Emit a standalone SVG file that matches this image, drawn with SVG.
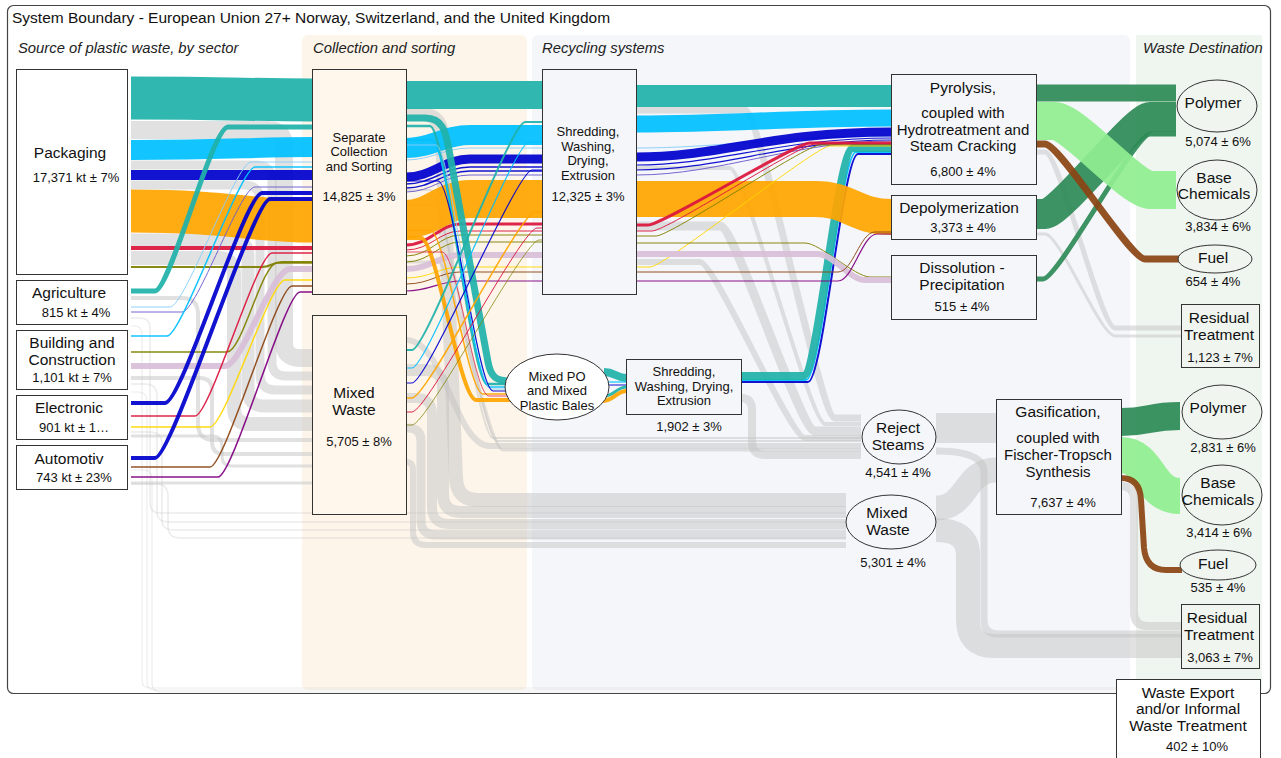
<svg xmlns="http://www.w3.org/2000/svg" width="1281" height="758" viewBox="0 0 1281 758">
<style>
  text{font-family:"Liberation Sans",Arial,sans-serif;fill:#111}
  .ttl{font-size:15.5px}
  .t15{font-size:15.5px}
  .t15s{font-size:15px}
  .t13{font-size:13px}
  .hd{font-size:14.8px;font-style:italic;fill:#222}
  .m{text-anchor:middle}
  .box{stroke:#333;stroke-width:1}
  .g{fill:none;stroke:#c4c4c4;stroke-opacity:.5}
  .gf{fill:none;stroke:#c8c8c8;stroke-opacity:.35}
  .c{fill:none;stroke-opacity:.93}
</style>

<!-- canvas and column panels -->
<rect width="1281" height="758" fill="#fff"/>
<rect x="302" y="35" width="225" height="655" rx="6" fill="#fdf5ea"/>
<rect x="532" y="35" width="598" height="655" rx="6" fill="#f5f6fa"/>
<rect x="1136" y="35" width="126" height="655" fill="#eff5ef"/>
<rect x="7.5" y="5.5" width="1263" height="688" rx="6" fill="none" stroke="#444" stroke-width="1.2"/>

<text class="ttl" x="12" y="23">System Boundary - European Union 27+ Norway, Switzerland, and the United Kingdom</text>
<text class="hd" x="18" y="53">Source of plastic waste, by sector</text>
<text class="hd" x="313" y="53">Collection and sorting</text>
<text class="hd" x="542" y="53">Recycling systems</text>
<text class="hd" x="1143" y="53">Waste Destination</text>

<g id="connectors">
  <!-- residual / reject streams (grey) -->
  <path class="g" stroke-width="18" d="M131 130 H268 Q284 130 284 146 V342 Q284 358 300 358 H312"/>
  <path class="g" stroke-width="9" d="M131 165 H256 Q272 165 272 181 V362 Q272 376 286 376 H312"/>
  <path class="g" stroke-width="9" d="M131 185 H244 Q260 185 260 201 V374 Q260 390 276 390 H312"/>
  <path class="g" stroke-width="13" d="M131 240 H232 Q248 240 248 256 V390 Q248 406 264 406 H312"/>
  <path class="g" stroke-width="14" d="M131 258 H218 Q234 258 234 274 V408 Q234 424 250 424 H312"/>
  <path class="g" stroke-width="4" d="M131 298 H182 Q198 298 198 314 V424 Q198 440 214 440 H312"/>
  <path class="g" stroke-width="4" d="M131 378 H200 Q212 378 212 390 V442 Q212 454 224 454 H312"/>
  <path class="g" stroke-width="3" d="M131 436 H212 Q222 436 222 446 V456 Q222 466 232 466 H312"/>
  <path class="g" stroke-width="3" d="M131 483 H312"/>

  <path class="gf" stroke-width="1.5" d="M131 318 H140 Q150 318 150 328 V503 Q150 513 160 513 H846"/>
  <path class="gf" stroke-width="1.5" d="M131 384 H145 Q157 384 157 396 V512 Q157 522 169 522 H846"/>
  <path class="gf" stroke-width="1.5" d="M131 432 H150 Q162 432 162 444 V520 Q162 530 174 530 H846"/>
  <path class="gf" stroke-width="1.5" d="M131 484 H156 Q168 484 168 496 V526 Q168 538 180 538 H846"/>
  <path class="gf" stroke-width="1.2" d="M131 326 H134 Q142 326 142 334 V680 Q142 688 150 688 H1116"/>
  <path class="gf" stroke-width="1.2" d="M131 392 H138 Q147 392 147 401 V682 Q147 690 155 690 H1116"/>
  <path class="gf" stroke-width="1.2" d="M131 470 H143 Q152 470 152 479 V683 Q152 692 161 692 H1116"/>

  <path class="g" stroke-width="14" d="M406 114 H420 Q440 114 442 134 L456 478 Q457 500 478 500 H846"/>
  <path class="g" stroke-width="12" d="M406 370 H425 Q443 370 443 388 V494 Q443 512 461 512 H846"/>
  <path class="g" stroke-width="10" d="M406 398 H416 Q432 398 432 414 V507 Q432 524 449 524 H846"/>
  <path class="g" stroke-width="9" d="M406 428 H408 Q421 428 421 441 V520 Q421 535 436 535 H846"/>
  <path class="g" stroke-width="6" d="M406 462 Q413 462 413 470 V532 Q413 545 426 545 H846"/>

  <path class="g" stroke-width="6" d="M406 340 C445 340 455 446 490 446 H861"/>
  <path class="g" stroke-width="2" d="M406 190 H430 C445 190 478 438 493 438 H861"/>
  <path class="g" stroke-width="2" d="M406 205 H433 C448 205 482 441 497 441 H861"/>
  <path class="g" stroke-width="3" d="M406 262 H438 C453 262 488 450 503 450 H861"/>

  <path class="g" stroke-width="7" d="M636 110 H745 C760 110 820 418 835 418 H861"/>
  <path class="g" stroke-width="4" d="M636 168 H730 C745 168 810 424 825 424 H861"/>
  <path class="g" stroke-width="9" d="M636 226 H720 C735 226 800 431 815 431 H861"/>
  <path class="g" stroke-width="6" d="M636 262 H700 C715 262 790 438 805 438 H861"/>
  <path class="g" stroke-width="8" d="M741 398 Q752 398 752 410 V442 Q752 455 765 455 H861"/>

  <path class="g" stroke-width="30" d="M936 428 H996"/>
  <path class="g" stroke-width="7" d="M936 451 Q984 451 984 472 V620 Q984 634 998 634 H1181"/>
  <path class="g" stroke-width="25" d="M936 508 C968 508 964 470 996 470"/>
  <path class="g" stroke-width="24" d="M936 530 Q968 530 968 555 V620 Q968 646 994 646 H1181"/>
  <path class="g" stroke-width="8" d="M1121 486 Q1134 486 1134 500 V612 Q1134 626 1148 626 H1181"/>
  <path class="g" stroke-width="5" d="M1036 152 H1045 C1060 152 1100 328 1115 328 H1181"/>
  <path class="g" stroke-width="3" d="M1036 234 H1045 C1060 234 1100 336 1115 336 H1181"/>

  <!-- sources to separate collection -->
  <path class="c" stroke="#20b2aa" stroke-width="43" d="M131 98 C230 98 250 100 312 100"/>
  <path class="c" stroke="#00bfff" stroke-width="20" d="M131 150 C230 150 250 147 312 147"/>
  <path class="c" stroke="#0000cd" stroke-width="10" d="M131 175 H312"/>
  <path class="c" stroke="#ffa500" stroke-width="43" d="M131 211 C230 211 250 221 312 221"/>
  <path class="c" stroke="#dc143c" stroke-width="4" d="M131 248 H312"/>
  <path class="c" stroke="#808000" stroke-width="2" d="M131 267 H262 C272 267 272 262 282 262 H312"/>

  <path class="c" stroke="#20b2aa" stroke-width="5" d="M131 291 H155 C170 291 212 127 228 127 H312"/>
  <path class="c" stroke="#87cefa" stroke-width="1" d="M131 307 H170 C185 307 236 162 251 162 H312"/>
  <path class="c" stroke="#6a5acd" stroke-width="1" d="M131 312 H182 C197 312 240 187 255 187 H312"/>
  <path class="c" stroke="#00bfff" stroke-width="1.5" d="M131 336 H167 C182 336 240 167 255 167 H312"/>
  <path class="c" stroke="#808000" stroke-width="1.5" d="M131 352 H227 C242 352 262 263 277 263 H312"/>
  <path class="c" stroke="#d8bfd8" stroke-width="6" d="M131 366 H225 C242 366 272 269 290 269 H312"/>
  <path class="c" stroke="#0000cd" stroke-width="4" d="M131 403 H165 C182 403 245 193 262 193 H312"/>
  <path class="c" stroke="#dc143c" stroke-width="1.5" d="M131 416 H195 C210 416 257 253 272 253 H312"/>
  <path class="c" stroke="#ffd700" stroke-width="1.5" d="M131 427 H210 C225 427 270 280 285 280 H312"/>
  <path class="c" stroke="#0000cd" stroke-width="4" d="M131 458 H155 C172 458 253 199 270 199 H312"/>
  <path class="c" stroke="#8b4513" stroke-width="1.5" d="M131 467 H210 C225 467 277 286 292 286 H312"/>
  <path class="c" stroke="#800080" stroke-width="1.5" d="M131 477 H218 C233 477 285 292 300 292 H312"/>

  <!-- separate collection to shredding -->
  <path class="c" stroke="#20b2aa" stroke-width="28" d="M406 95 H542"/>
  <path class="c" stroke="#00bfff" stroke-width="20" d="M406 148 C432 148 444 135 470 135 H542"/>
  <path class="c" stroke="#87cefa" stroke-width="1" d="M406 160 C432 160 444 148 470 148 H542"/>
  <path class="c" stroke="#0000cd" stroke-width="9" d="M406 177 C432 177 444 159 470 159 H542"/>
  <path class="c" stroke="#0000cd" stroke-width="1.5" d="M406 184 C432 184 444 167 470 167 H542"/>
  <path class="c" stroke="#0000cd" stroke-width="1.5" d="M406 188 C432 188 444 171 470 171 H542"/>
  <path class="c" stroke="#6a5acd" stroke-width="1" d="M406 192 C432 192 444 175 470 175 H542"/>
  <path class="c" stroke="#ffa500" stroke-width="38" d="M406 219 C432 219 444 199 470 199 H542"/>
  <path class="c" stroke="#dc143c" stroke-width="3" d="M406 245 C430 245 440 224 460 224 H542"/>
  <path class="c" stroke="#dc143c" stroke-width="1" d="M406 250 C430 250 440 231 460 231 H542"/>
  <path class="c" stroke="#808000" stroke-width="1" d="M406 256 C430 256 440 235 460 235 H542"/>
  <path class="c" stroke="#808000" stroke-width="1" d="M406 262 C430 262 440 242 460 242 H542"/>
  <path class="c" stroke="#d8bfd8" stroke-width="6" d="M406 269 C430 269 440 255 460 255 H542"/>
  <path class="c" stroke="#ffd700" stroke-width="1" d="M406 278 C430 278 440 267 460 267 H542"/>
  <path class="c" stroke="#8b4513" stroke-width="1" d="M406 284 C430 284 440 272 460 272 H542"/>
  <path class="c" stroke="#800080" stroke-width="1.2" d="M406 291 C430 291 440 281 460 281 H542"/>

  <!-- separate collection to mixed PO bales -->
  <path class="c" stroke="#20b2aa" stroke-width="7" d="M406 118 H425 C445 118 446 136 449 150 L488 362 C491 378 497 381 510 381"/>
  <path class="c" stroke="#20b2aa" stroke-width="2.5" d="M406 126 H430 C445 126 472 384 487 384 H510"/>
  <path class="c" stroke="#00bfff" stroke-width="1.5" d="M406 140 H432 C447 140 474 387 489 387 H510"/>
  <path class="c" stroke="#87cefa" stroke-width="1" d="M406 145 H436 C451 145 476 389 491 389 H510"/>
  <path class="c" stroke="#0000cd" stroke-width="1.2" d="M406 181 H438 C453 181 478 391 493 391 H510"/>
  <path class="c" stroke="#ffa500" stroke-width="1.5" d="M406 230 H430 C445 230 468 394 483 394 H510"/>
  <path class="c" stroke="#ffa500" stroke-width="4" d="M406 238 H421 C436 238 460 400 476 400 H510"/>
  <path class="c" stroke="#dc143c" stroke-width="0.8" d="M406 252 H442 C457 252 474 396 489 396 H510"/>

  <!-- mixed waste collection to shredding -->
  <path class="c" stroke="#20b2aa" stroke-width="2" d="M406 350 H412 C427 350 510 122 525 122 H542"/>
  <path class="c" stroke="#00bfff" stroke-width="1.2" d="M406 368 H412 C427 368 514 142 529 142 H542"/>
  <path class="c" stroke="#0000cd" stroke-width="1.2" d="M406 383 H412 C427 383 517 170 532 170 H542"/>
  <path class="c" stroke="#ffa500" stroke-width="1.5" d="M406 398 H412 C427 398 520 212 535 212 H542"/>
  <path class="c" stroke="#dc143c" stroke-width="1" d="M406 412 H412 C427 412 522 228 537 228 H542"/>
  <path class="c" stroke="#808000" stroke-width="0.8" d="M406 425 H412 C427 425 524 240 539 240 H542"/>

  <!-- mixed PO bales to secondary shredding -->
  <path class="c" stroke="#20b2aa" stroke-width="8" d="M604 372 C615 372 616 378 627 378"/>
  <path class="c" stroke="#00bfff" stroke-width="1.2" d="M606 382 H627"/>
  <path class="c" stroke="#0000cd" stroke-width="1" d="M606 385 H627"/>
  <path class="c" stroke="#20b2aa" stroke-width="3" d="M604 396 C615 396 616 387 627 387"/>
  <path class="c" stroke="#ffa500" stroke-width="4" d="M602 401 C614 401 616 391 627 391"/>

  <!-- secondary shredding to pyrolysis -->
  <path class="c" stroke="#0000cd" stroke-width="2" d="M741 382 H808 C823 382 843 154 858 154 H891"/>
  <path class="c" stroke="#00bfff" stroke-width="2" d="M741 380 H806 C821 380 841 152 856 152 H891"/>
  <path class="c" stroke="#20b2aa" stroke-width="8" d="M741 376 H803 C818 376 838 148 853 148 H891"/>

  <!-- shredding to chemical recycling -->
  <path class="c" stroke="#20b2aa" stroke-width="22" d="M636 96 H891"/>
  <path class="c" stroke="#00bfff" stroke-width="17" d="M636 124 C740 124 780 118 891 118"/>
  <path class="c" stroke="#87cefa" stroke-width="1" d="M636 148 C720 148 780 136 891 136"/>
  <path class="c" stroke="#0000cd" stroke-width="9" d="M636 157 C720 157 770 132 891 132"/>
  <path class="c" stroke="#0000cd" stroke-width="1.2" d="M636 165 C720 165 780 138 891 138"/>
  <path class="c" stroke="#0000cd" stroke-width="1.2" d="M636 170 C720 170 790 140 891 140"/>
  <path class="c" stroke="#6a5acd" stroke-width="1" d="M636 175 C720 175 795 141 891 141"/>
  <path class="c" stroke="#ffa500" stroke-width="36" d="M636 199 H815 C850 199 855 217 891 217"/>
  <path class="c" stroke="#dc143c" stroke-width="3" d="M636 225 H648 C663 225 795 143 810 143 H891"/>
  <path class="c" stroke="#dc143c" stroke-width="1" d="M636 231 H652 C667 231 800 144 815 144 H891"/>
  <path class="c" stroke="#808000" stroke-width="1" d="M636 236 H656 C671 236 805 145 820 145 H891"/>
  <path class="c" stroke="#ffd700" stroke-width="1" d="M636 267 H650 C665 267 815 146 830 146 H891"/>
  <path class="c" stroke="#808000" stroke-width="1" d="M636 243 H805 C820 243 855 277 870 277 H891"/>
  <path class="c" stroke="#d8bfd8" stroke-width="6" d="M636 254 H818 C833 254 850 280 865 280 H891"/>
  <path class="c" stroke="#8b4513" stroke-width="1" d="M636 272 H838 C853 272 860 232 875 232 H891"/>
  <path class="c" stroke="#800080" stroke-width="1.2" d="M636 281 H838 C853 281 862 234 877 234 H891"/>

  <!-- products -->
  <path class="c" stroke="#2e8b57" stroke-width="17" d="M1036 93 H1176"/>
  <path class="c" stroke="#2e8b57" stroke-width="30" d="M1036 214 H1045 C1060 214 1135 117 1150 117 H1176"/>
  <path class="c" stroke="#2e8b57" stroke-width="5" d="M1036 279 H1043 C1058 279 1135 134 1150 134 H1176"/>
  <path class="c" stroke="#90ee90" stroke-width="38" d="M1036 121 H1055 C1072 121 1133 190 1150 190 H1176"/>
  <path class="c" stroke="#8b4513" stroke-width="7" d="M1036 144 H1045 C1060 144 1130 259 1145 259 H1180"/>
  <path class="c" stroke="#2e8b57" stroke-width="28" d="M1121 422 C1150 422 1148 416 1180 416"/>
  <path class="c" stroke="#90ee90" stroke-width="36" d="M1121 455 C1150 455 1148 496 1180 496"/>
  <path class="c" stroke="#8b4513" stroke-width="6" d="M1121 478 Q1140 478 1141 500 L1144 548 Q1146 570 1166 570 H1182"/>
</g>

<!-- sources -->
<g id="packaging"><rect class="box" fill="#fff" x="16.5" y="69.5" width="111" height="205"/>
  <text class="t15 m" x="70" y="158">Packaging</text><text class="t13 m" x="76" y="182">17,371 kt ± 7%</text></g>
<g id="agriculture"><rect class="box" fill="#fff" x="16.5" y="280.5" width="111" height="44"/>
  <text class="t15 m" x="69" y="298">Agriculture</text><text class="t13 m" x="76" y="317">815 kt ± 4%</text></g>
<g id="building"><rect class="box" fill="#fff" x="16.5" y="330.5" width="111" height="59"/>
  <text class="t15 m" x="72" y="348">Building and</text><text class="t15 m" x="72" y="365">Construction</text><text class="t13 m" x="72" y="382">1,101 kt ± 7%</text></g>
<g id="electronic"><rect class="box" fill="#fff" x="16.5" y="395.5" width="111" height="44"/>
  <text class="t15 m" x="69" y="413">Electronic</text><text class="t13 m" x="74" y="432">901 kt ± 1…</text></g>
<g id="automotive"><rect class="box" fill="#fff" x="16.5" y="445.5" width="111" height="44"/>
  <text class="t15 m" x="69" y="464">Automotiv</text><text class="t13 m" x="74" y="482">743 kt ± 23%</text></g>

<!-- collection -->
<g id="separate-collection"><rect class="box" fill="#fff6ec" x="312.5" y="69.5" width="94" height="225"/>
  <text class="t13 m" x="359" y="142">Separate</text><text class="t13 m" x="359" y="156">Collection</text><text class="t13 m" x="359" y="171">and Sorting</text><text class="t13 m" x="359" y="201">14,825 ± 3%</text></g>
<g id="mixed-waste-collection"><rect class="box" fill="#fff6ec" x="312.5" y="315.5" width="94" height="199"/>
  <text class="t15 m" x="354" y="398">Mixed</text><text class="t15 m" x="354" y="415">Waste</text><text class="t13 m" x="359" y="446">5,705 ± 8%</text></g>

<!-- mechanical recycling -->
<g id="shredding"><rect class="box" fill="#f5f6fa" x="542.5" y="69.5" width="94" height="225"/>
  <text class="t13 m" x="588" y="136">Shredding,</text><text class="t13 m" x="588" y="151">Washing,</text><text class="t13 m" x="588" y="165">Drying,</text><text class="t13 m" x="588" y="180">Extrusion</text><text class="t13 m" x="588" y="201">12,325 ± 3%</text></g>
<g id="mixed-po"><ellipse class="box" fill="#fff" cx="557" cy="387" rx="52" ry="33"/>
  <text class="t13 m" x="557" y="381">Mixed PO</text><text class="t13 m" x="557" y="395">and Mixed</text><text class="t13 m" x="557" y="410">Plastic Bales</text></g>
<g id="shredding-2"><rect class="box" fill="#f5f6fa" x="626.5" y="359.5" width="115" height="55"/>
  <text class="t13 m" x="684" y="376">Shredding,</text><text class="t13 m" x="684" y="391">Washing, Drying,</text><text class="t13 m" x="684" y="405">Extrusion</text>
  <text class="t13 m" x="689" y="431">1,902 ± 3%</text></g>

<!-- chemical recycling -->
<g id="pyrolysis"><rect class="box" fill="#f5f6fa" x="891.5" y="74.5" width="145" height="110"/>
  <text class="t15 m" x="963" y="93">Pyrolysis,</text><text class="t15s m" x="963" y="118">coupled with</text><text class="t15s m" x="963" y="135">Hydrotreatment and</text><text class="t15s m" x="963" y="151">Steam Cracking</text><text class="t13 m" x="963" y="176">6,800 ± 4%</text></g>
<g id="depolymerization"><rect class="box" fill="#f5f6fa" x="891.5" y="195.5" width="145" height="44"/>
  <text class="t15 m" x="959" y="213">Depolymerization</text><text class="t13 m" x="963" y="232">3,373 ± 4%</text></g>
<g id="dissolution"><rect class="box" fill="#f5f6fa" x="891.5" y="255.5" width="145" height="64"/>
  <text class="t15 m" x="962" y="273">Dissolution -</text><text class="t15 m" x="962" y="290">Precipitation</text><text class="t13 m" x="962" y="311">515 ± 4%</text></g>
<g id="reject-steams"><ellipse class="box" fill="#f5f6fa" cx="899" cy="437" rx="37" ry="27"/>
  <text class="t15 m" x="898" y="433">Reject</text><text class="t15 m" x="898" y="450">Steams</text><text class="t13 m" x="898" y="477">4,541 ± 4%</text></g>
<g id="mixed-waste"><ellipse class="box" fill="#f5f6fa" cx="891" cy="522" rx="45" ry="27"/>
  <text class="t15 m" x="887" y="518">Mixed</text><text class="t15 m" x="888" y="535">Waste</text><text class="t13 m" x="893" y="567">5,301 ± 4%</text></g>
<g id="gasification"><rect class="box" fill="#f5f6fa" x="996.5" y="399.5" width="125" height="115"/>
  <text class="t15 m" x="1058" y="417">Gasification,</text><text class="t15s m" x="1058" y="443">coupled with</text><text class="t15s m" x="1058" y="460">Fischer-Tropsch</text><text class="t15s m" x="1058" y="477">Synthesis</text><text class="t13 m" x="1063" y="507">7,637 ± 4%</text></g>

<!-- destinations -->
<g id="polymer-1"><ellipse class="box" fill="#f0f5f0" cx="1217" cy="106" rx="40" ry="26"/>
  <text class="t15 m" x="1213" y="108">Polymer</text><text class="t13 m" x="1218" y="146">5,074 ± 6%</text></g>
<g id="base-chemicals-1"><ellipse class="box" fill="#f0f5f0" cx="1217" cy="190" rx="40" ry="30"/>
  <text class="t15 m" x="1214" y="183">Base</text><text class="t15 m" x="1214" y="199">Chemicals</text><text class="t13 m" x="1218" y="231">3,834 ± 6%</text></g>
<g id="fuel-1"><ellipse class="box" fill="#f0f5f0" cx="1215" cy="259" rx="37" ry="14"/>
  <text class="t15 m" x="1213" y="263">Fuel</text><text class="t13 m" x="1213" y="286">654 ± 4%</text></g>
<g id="residual-1"><rect class="box" fill="#f0f5f0" x="1181.5" y="304.5" width="78" height="63"/>
  <text class="t15 m" x="1219" y="323">Residual</text><text class="t15 m" x="1219" y="340">Treatment</text><text class="t13 m" x="1220" y="362">1,123 ± 7%</text></g>
<g id="polymer-2"><ellipse class="box" fill="#f0f5f0" cx="1222" cy="412" rx="40" ry="27"/>
  <text class="t15 m" x="1218" y="413">Polymer</text><text class="t13 m" x="1223" y="452">2,831 ± 6%</text></g>
<g id="base-chemicals-2"><ellipse class="box" fill="#f0f5f0" cx="1222" cy="495" rx="40" ry="30"/>
  <text class="t15 m" x="1218" y="488">Base</text><text class="t15 m" x="1218" y="505">Chemicals</text><text class="t13 m" x="1219" y="537">3,414 ± 6%</text></g>
<g id="fuel-2"><ellipse class="box" fill="#f0f5f0" cx="1218" cy="565" rx="38" ry="15"/>
  <text class="t15 m" x="1213" y="569">Fuel</text><text class="t13 m" x="1218" y="592">535 ± 4%</text></g>
<g id="residual-2"><rect class="box" fill="#f0f5f0" x="1181.5" y="604.5" width="78" height="64"/>
  <text class="t15 m" x="1217" y="623">Residual</text><text class="t15 m" x="1219" y="640">Treatment</text><text class="t13 m" x="1220" y="662">3,063 ± 7%</text></g>
<g id="waste-export"><rect class="box" fill="#fff" x="1116.5" y="679.5" width="144" height="90"/>
  <text class="t15 m" x="1188" y="698">Waste Export</text><text class="t15 m" x="1188" y="714">and/or Informal</text><text class="t15 m" x="1188" y="731">Waste Treatment</text><text class="t13 m" x="1197" y="751">402 ± 10%</text></g>
</svg>
